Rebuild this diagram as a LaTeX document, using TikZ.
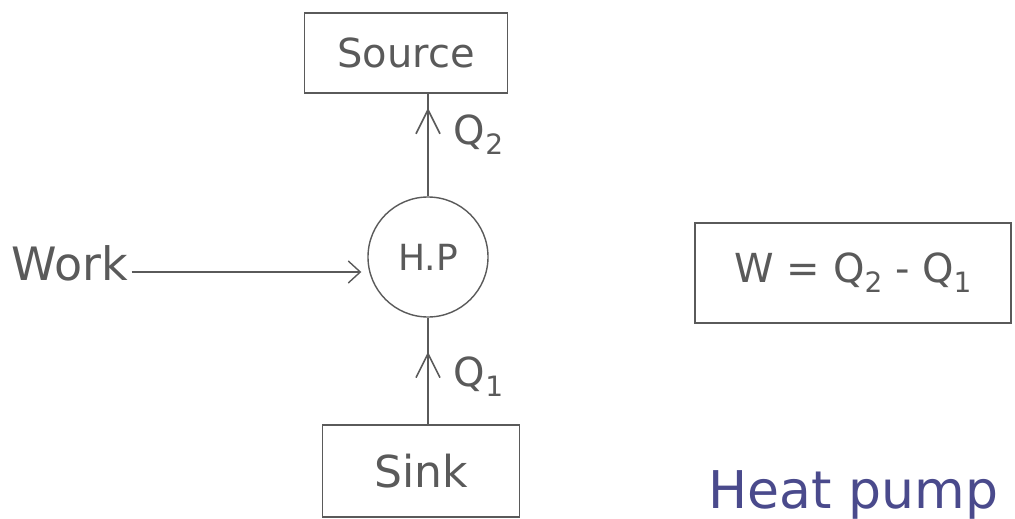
\documentclass[tikz,border=0pt]{standalone}
\usepackage{fontspec}
\setmainfont{DejaVu Sans}
\usetikzlibrary{arrows.meta,decorations.markings}
\definecolor{pencil}{HTML}{5A5A5A}
\definecolor{ink}{HTML}{4A4A8C}
\tikzset{
  boxnode/.style={draw=pencil,line width=1.2pt,minimum width=#1,text=pencil,inner sep=0pt},
  hand/.style={text=pencil,font=\fontsize{40}{40}\selectfont},
  flow/.style={draw=pencil,line width=1.2pt,postaction={decorate},
    decoration={markings,mark=at position #1 with {\arrow[pencil,line width=1.6pt]{Straight Barb[length=24pt,width=24pt]}}}},
}
\newcommand{\sub}[1]{\raisebox{-0.25em}{\fontsize{28}{28}\selectfont #1}}
\begin{document}
\begin{tikzpicture}[x=1pt,y=-1pt]
\useasboundingbox (0,0) rectangle (1015,519);
\node[boxnode=203pt,minimum height=80pt,hand] (source) at (406,53) {Source};
\node[draw=pencil,line width=1.4pt,circle,minimum size=120pt,inner sep=0pt,hand,font=\fontsize{36}{36}\selectfont] (hp) at (428,257) {H.P};
\node[boxnode=197pt,minimum height=92pt,hand,font=\fontsize{44}{44}\selectfont] (sink) at (421,471) {Sink};
\node[hand,anchor=base west,font=\fontsize{46}{46}\selectfont] (work) at (8,280) {Work};
\node[boxnode=316pt,minimum height=100pt,hand] (eq) at (853,273) {W = Q\sub{2} - Q\sub{1}};
\node[text=ink,font=\fontsize{52}{52}\selectfont,anchor=base west] (title) at (705,508) {Heat pump};
\coordinate (stop) at (hp.north |- source.south);
\draw[flow=0.86] (hp.north) -- (stop) node[pos=0.6,right=22pt,hand] (q2) {Q\sub{2}};
\coordinate (sbot) at (hp.south |- sink.north);
\draw[flow=0.68] (sbot) -- (hp.south) node[pos=0.45,right=22pt,hand] (q1) {Q\sub{1}};
\draw[draw=pencil,line width=1.2pt,-{Straight Barb[length=12pt,width=22pt,line width=1.4pt]},shorten >=6pt] (work.base east) ++(0,-8) coordinate (w0) -- (w0 -| hp.west);
\end{tikzpicture}
\end{document}
